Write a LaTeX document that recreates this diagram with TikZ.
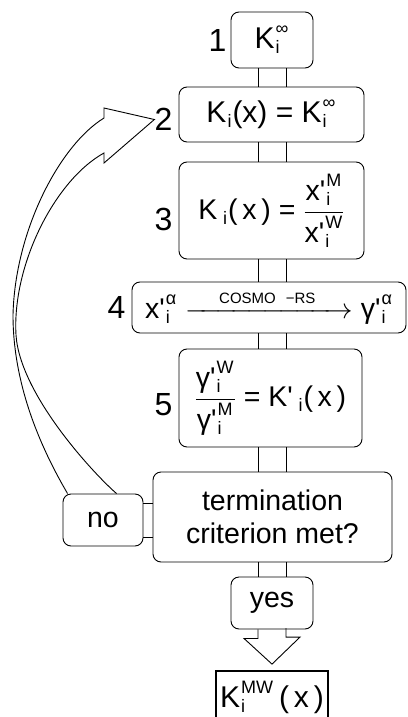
\RequirePackage{fix-cm}
\documentclass[tikz,border=0pt]{standalone}
\usepackage{amsmath}
\usepackage{fontspec}
\setmainfont{Liberation Sans}
\newfontfamily\plainsans{Liberation Sans}
\usetikzlibrary{positioning,calc}
\newcommand{\tx}[1]{\text{\plainsans #1}}
\newcommand{\ssc}[2][18]{\hbox{\fontsize{#1}{#1}\selectfont\plainsans #2}}
% stacked super/subscript: \scr{sup}{sub}
\newcommand{\scr}[2]{\hbox{\setbox0\hbox{\ssc{#1}}\setbox2\hbox{\ssc{#2}}%
  \ifdim\wd0>\wd2 \dimen0=\wd0 \else \dimen0=\wd2 \fi
  \kern1pt\rlap{\raise14pt\box0}\rlap{\lower5pt\box2}\hskip\dimen0\kern1pt}}

\begin{document}
\begin{tikzpicture}[
  x=1pt,y=-1pt,
  box/.style={draw,line width=0.9pt,rounded corners=8pt,align=center,inner sep=2pt,
    font=\fontsize{28.5}{33}\selectfont\plainsans},
  bigbox/.style={box,font=\fontsize{30}{34}\selectfont\plainsans},
  num/.style={inner sep=0pt,font=\fontsize{32}{32}\selectfont},
  link/.style={line width=0.9pt},
]
\clip (0,0) rectangle (407,717);
\coordinate (axis) at (272,0);
% iteration steps
\node[bigbox,minimum width=82pt,minimum height=56pt] (k1) at (272,40) {K\scr{∞}{i}};
\node[bigbox,minimum width=185pt,minimum height=55pt] (k2) at (271.5,114.5)
  {K\scr{}{i}(x) = K\scr{∞}{i}};
\node[box,minimum width=185pt,minimum height=97pt] (k3) at (271.5,210.5)
  {$\tx{K\,\scr{}{i}(\,x\,)}\mathrel{\tx{=}}\dfrac{\tx{x'\scr{M}{i}}}{\tx{x'\scr{W}{i}}}$};
\node[box,minimum width=274pt,minimum height=51pt] (k4) at (269,307.5)
  {$\tx{x'\scr{α}{i}}\xrightarrow{\hspace{28pt}\ssc[15]{COSMO}\hspace{10pt}\ssc[15]{−RS}\hspace{28pt}}\tx{γ'\scr{α}{i}}$};
\node[box,minimum width=183pt,minimum height=98pt] (k5) at (270.5,398)
  {$\dfrac{\tx{γ'\scr{W}{i}}}{\tx{γ'\scr{M}{i}}}\mathrel{\tx{=}}\tx{K'\,\scr{}{i}(\,x\,)}$};
\node[box,minimum width=239pt,minimum height=90pt] (stop) at (272.5,517) {termination\\criterion met?};
\node[box,minimum width=80pt,minimum height=52pt] (no) at (103,520) {no};
\node[box,minimum width=82pt,minimum height=52pt] (yes) at (272,603) {yes};
\node[draw,line width=1.8pt,minimum width=112pt,minimum height=52pt,inner sep=2pt,
  font=\fontsize{30}{34}\selectfont\plainsans] (kmw) at (272,697) {K\scr{MW}{i}\,(\,x\,)};
% step numbers
\node[num,left=4pt of k1] (l1) {1};
\node[num,left=6pt of k2,yshift=-5pt] (l2) {2};
\node[num,left=6pt of k3,yshift=-9pt] (l3) {3};
\node[num,left=6pt of k4] (l4) {4};
\node[num,left=6pt of k5,yshift=-7pt] (l5) {5};
% double-line links
\foreach \a/\b in {k1/k2,k2/k3,k3/k4,k4/k5,k5/stop,stop/yes}
  \foreach \d in {-14,14}
    \draw[link] ($(axis |- \a.south)+(\d,0)$) -- ($(axis |- \b.north)+(\d,0)$);
\foreach \d in {-17,17}
  \draw[link] ([yshift=\d pt]no.east) -- ([yshift=\d pt]no.east -| stop.west);
% loop back arrow
\coordinate (o1) at ($(no.north west)+(5,0)$);
\coordinate (o2) at ($(no.north west)+(54,0)$);
\draw[link] (o1) .. controls (45,455) and (13,390) .. (13,315)
  .. controls (15,230) and (60,145) .. (104,118) -- (104,108) -- (l2.west)
  -- (104,163) -- (104,153) .. controls (55,180) and (12,265) .. (16,335)
  .. controls (20,395) and (95,475) .. (o2);
% result arrow
\draw[link] ($(yes.south)+(-14,0)$) -- ++(0,9) -- ++(-14,0) -- ($(kmw.north)+(0,-6)$)
  -- ++(28,-27) -- ++(-14,0) -- ++(0,-9);
\end{tikzpicture}
\end{document}
